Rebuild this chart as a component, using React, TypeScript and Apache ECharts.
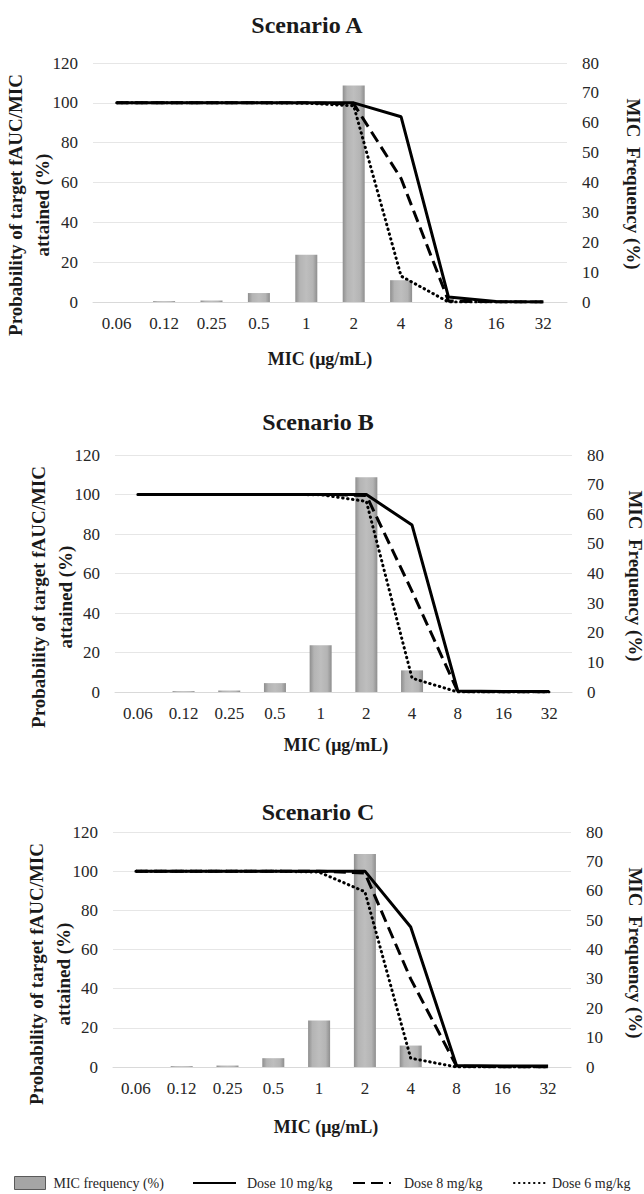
import React, { useEffect, useRef } from "react";
import * as echarts from "echarts";

const categories = ["0.06", "0.12", "0.25", "0.5", "1", "2", "4", "8", "16", "32"];
const scenarioTitles = ["Scenario A", "Scenario B", "Scenario C"];
const leftTicks = [0, 120, 20];
const rightTicks = [0, 80, 10];

const micFrequency = [0, 0.3, 0.5, 3.0, 15.8, 72.5, 7.3, 0, 0, 0];

const doseA10 = [100, 100, 100, 100, 100, 100, 93, 2.5, 0.2, 0];
const doseA8 = [100, 100, 100, 100, 100, 99.5, 62, 0.5, 0, 0];
const doseA6 = [100, 100, 100, 100, 99.8, 98.5, 13, 0, 0, 0];

const doseB10 = [100, 100, 100, 100, 100, 100, 84.5, 0.5, 0.3, 0.3];
const doseB8 = [100, 100, 100, 100, 100, 99.5, 51, 0.3, 0, 0];
const doseB6 = [100, 100, 100, 100, 99.9, 96.5, 7, 0, 0, 0];

const doseC10 = [100, 100, 100, 100, 100, 100, 71.5, 0.8, 0.5, 0.5];
const doseC8 = [100, 100, 100, 100, 100, 99, 45, 0.5, 0, 0];
const doseC6 = [100, 100, 100, 100, 99.5, 89.5, 4.5, 0, 0, 0];

const dose10 = [doseA10, doseB10, doseC10];
const dose8 = [doseA8, doseB8, doseC8];
const dose6 = [doseA6, doseB6, doseC6];

const seriesNames = ["MIC frequency (%)", "Dose 10 mg/kg", "Dose 8 mg/kg", "Dose 6 mg/kg"];

const FONT = "Liberation Serif";

const gridBoxes = [
  { left: 93, right: 77, top: 63, height: 239 },
  { left: 115, right: 72, top: 455, height: 237 },
  { left: 113, right: 73, top: 832, height: 235 },
];

const titlePos = [
  [307, 25],
  [318, 422],
  [318, 812],
];
const leftNamePos = [
  [29, 205],
  [52, 597],
  [50, 974],
];
const rightNamePos = [
  [633, 184],
  [635, 576],
  [635, 953],
];
const xNamePos = [
  [320, 359],
  [336, 745],
  [326, 1127],
];

export default function App() {
  const ref = useRef<HTMLDivElement>(null);

  useEffect(() => {
    if (!ref.current) return;
    const chart = echarts.init(ref.current, null, { renderer: "svg" });

    const barColor = new echarts.graphic.LinearGradient(0, 0, 1, 0, [
      { offset: 0, color: "#8e8e8e" },
      { offset: 0.2, color: "#b4b4b4" },
      { offset: 0.5, color: "#bebebe" },
      { offset: 0.8, color: "#b4b4b4" },
      { offset: 1, color: "#8e8e8e" },
    ]);

    const labelStyle = { fontFamily: FONT, fontSize: 17, color: "#262626" };
    const boldText = (text: string, size: number, extra: any = {}) => ({
      text,
      fontFamily: FONT,
      fontWeight: "bold",
      fontSize: size,
      fill: "#1a1a1a",
      align: "center",
      verticalAlign: "middle",
      ...extra,
    });

    const xAxis: any[] = [];
    const yAxis: any[] = [];
    const series: any[] = [];
    const graphic: any[] = [];

    gridBoxes.forEach((_, i) => {
      xAxis.push({
        type: "category",
        gridIndex: i,
        data: categories,
        axisLine: { show: true, lineStyle: { color: "#d9d9d9", width: 1 } },
        axisTick: { show: false },
        axisLabel: { ...labelStyle, margin: 13 },
      });
      yAxis.push({
        type: "value",
        gridIndex: i,
        min: leftTicks[0],
        max: leftTicks[1],
        interval: leftTicks[2],
        axisLine: { show: false },
        axisTick: { show: false },
        axisLabel: { ...labelStyle, margin: 15 },
        splitLine: { show: true, lineStyle: { color: "#e6e6e6", width: 1 } },
      });
      yAxis.push({
        type: "value",
        gridIndex: i,
        position: "right",
        min: rightTicks[0],
        max: rightTicks[1],
        interval: rightTicks[2],
        axisLine: { show: false },
        axisTick: { show: false },
        axisLabel: { ...labelStyle, margin: 15 },
        splitLine: { show: false },
      });

      series.push({
        type: "bar",
        name: seriesNames[0],
        xAxisIndex: i,
        yAxisIndex: 2 * i + 1,
        data: micFrequency,
        barWidth: 22,
        itemStyle: { color: barColor },
        z: 1,
      });
      series.push({
        type: "line",
        name: seriesNames[1],
        xAxisIndex: i,
        yAxisIndex: 2 * i,
        data: dose10[i],
        symbol: "none",
        lineStyle: { color: "#000000", width: 3, type: "solid" },
        itemStyle: { color: "#000000" },
        z: 4,
      });
      series.push({
        type: "line",
        name: seriesNames[2],
        xAxisIndex: i,
        yAxisIndex: 2 * i,
        data: dose8[i],
        symbol: "none",
        lineStyle: { color: "#000000", width: 3, type: [12, 6] },
        itemStyle: { color: "#000000" },
        z: 3,
      });
      series.push({
        type: "line",
        name: seriesNames[3],
        xAxisIndex: i,
        yAxisIndex: 2 * i,
        data: dose6[i],
        symbol: "none",
        lineStyle: { color: "#000000", width: 3, type: [0.5, 4.5], cap: "round" },
        itemStyle: { color: "#000000" },
        z: 3,
      });

      graphic.push({
        type: "text",
        x: titlePos[i][0],
        y: titlePos[i][1],
        style: boldText(scenarioTitles[i], 24),
      });
      graphic.push({
        type: "text",
        x: leftNamePos[i][0],
        y: leftNamePos[i][1],
        rotation: Math.PI / 2,
        style: boldText("Probability of target fAUC/MIC\nattained (%)", 19, { lineHeight: 27 }),
      });
      graphic.push({
        type: "text",
        x: rightNamePos[i][0],
        y: rightNamePos[i][1],
        rotation: -Math.PI / 2,
        style: boldText("MIC  Frequency (%)", 19),
      });
      graphic.push({
        type: "text",
        x: xNamePos[i][0],
        y: xNamePos[i][1],
        style: boldText("MIC (μg/mL)", 18),
      });
    });

    const legendText = { fontFamily: FONT, fontSize: 14, color: "#262626" };
    const hideSymbol = { opacity: 0 };

    const option: any = {
      animation: false,
      backgroundColor: "#ffffff",
      textStyle: { fontFamily: FONT },
      grid: gridBoxes.map((g) => ({ ...g, containLabel: false })),
      xAxis,
      yAxis,
      series,
      graphic,
      legend: [
        {
          left: 14,
          top: 1176,
          padding: 0,
          data: [seriesNames[0]],
          icon: "rect",
          itemWidth: 31,
          itemHeight: 13,
          itemStyle: { color: "#a5a5a5", borderColor: "#5a5a5a", borderWidth: 1 },
          textStyle: { ...legendText, padding: [0, 0, 0, 3] },
          selectedMode: false,
        },
        {
          left: 192,
          top: 1176,
          padding: 0,
          data: [seriesNames[1]],
          itemWidth: 43,
          itemHeight: 14,
          itemStyle: hideSymbol,
          textStyle: { ...legendText, padding: [0, 0, 0, 6] },
          selectedMode: false,
        },
        {
          left: 352,
          top: 1176,
          padding: 0,
          data: [seriesNames[2]],
          itemWidth: 38,
          itemHeight: 14,
          itemStyle: hideSymbol,
          textStyle: { ...legendText, padding: [0, 0, 0, 8] },
          selectedMode: false,
        },
        {
          left: 513,
          top: 1176,
          padding: 0,
          data: [seriesNames[3]],
          itemWidth: 33,
          itemHeight: 14,
          itemStyle: hideSymbol,
          textStyle: { ...legendText, padding: [0, 0, 0, 0] },
          selectedMode: false,
        },
      ],
    };

    chart.setOption(option);
    return () => chart.dispose();
  }, []);

  return (
    <div
      ref={ref}
      style={{ position: "absolute", left: 0, top: 0, width: 644, height: 1194, background: "#fff" }}
    />
  );
}
